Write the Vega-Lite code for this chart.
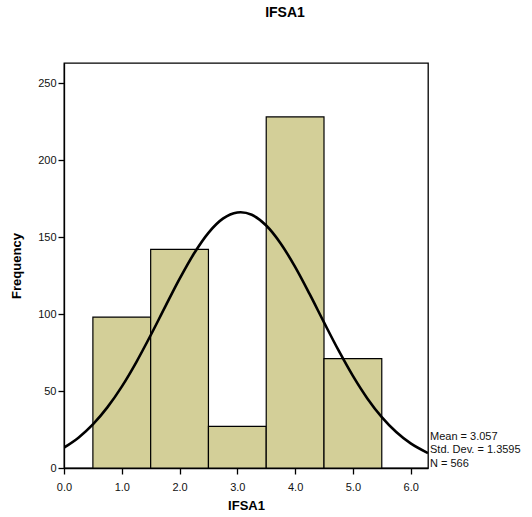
{
  "$schema": "https://vega.github.io/schema/vega-lite/v6.json",
  "autosize": {"type": "none"},
  "width": 364,
  "height": 405,
  "padding": {"left": 64, "top": 63, "right": 104, "bottom": 49},
  "background": "white",
  "title": {
    "text": "IFSA1",
    "fontSize": 14,
    "fontWeight": "bold",
    "font": "Liberation Sans",
    "color": "black",
    "anchor": "middle",
    "dx": 39,
    "offset": 43
  },
  "config": {
    "view": {"stroke": "black", "strokeWidth": 1.3},
    "font": "Liberation Sans",
    "axis": {
      "grid": false,
      "labelFont": "Liberation Sans",
      "labelFontSize": 11,
      "labelColor": "#111",
      "labelFlush": false,
      "titleFont": "Liberation Sans",
      "titleFontSize": 13,
      "titleFontWeight": "bold",
      "titleColor": "black",
      "tickColor": "black",
      "tickSize": 6,
      "tickWidth": 1.3,
      "domainColor": "black",
      "domainWidth": 1.3
    }
  },
  "datasets": {
    "bins": [
      {"lo": 0.5, "hi": 1.5, "count": 98},
      {"lo": 1.5, "hi": 2.5, "count": 142},
      {"lo": 2.5, "hi": 3.5, "count": 27},
      {"lo": 3.5, "hi": 4.5, "count": 228},
      {"lo": 4.5, "hi": 5.5, "count": 71}
    ],
    "curve": [
      {"x": 0.0, "y": 13.26},
      {"x": 0.25, "y": 19.71},
      {"x": 0.5, "y": 28.33},
      {"x": 0.75, "y": 39.36},
      {"x": 1.0, "y": 52.87},
      {"x": 1.25, "y": 68.66},
      {"x": 1.5, "y": 86.2},
      {"x": 1.75, "y": 104.63},
      {"x": 2.0, "y": 122.77},
      {"x": 2.25, "y": 139.26},
      {"x": 2.5, "y": 152.72},
      {"x": 2.75, "y": 161.91},
      {"x": 3.0, "y": 165.94},
      {"x": 3.057, "y": 166.09},
      {"x": 3.25, "y": 164.42},
      {"x": 3.5, "y": 157.5},
      {"x": 3.75, "y": 145.85},
      {"x": 4.0, "y": 130.57},
      {"x": 4.25, "y": 113.01},
      {"x": 4.5, "y": 94.56},
      {"x": 4.75, "y": 76.49},
      {"x": 5.0, "y": 59.81},
      {"x": 5.25, "y": 45.21},
      {"x": 5.5, "y": 33.05},
      {"x": 5.75, "y": 23.35},
      {"x": 6.0, "y": 15.95},
      {"x": 6.3, "y": 9.68}
    ],
    "stats": [
      {"l1": "Mean = 3.057", "l2": "Std. Dev. = 1.3595", "l3": "N = 566"}
    ]
  },
  "layer": [
    {
      "data": {"name": "bins"},
      "mark": {"type": "rect", "fill": "#d3cf98", "stroke": "black", "strokeWidth": 1.2},
      "encoding": {
        "x": {
          "field": "lo",
          "type": "quantitative",
          "scale": {"domain": [0, 6.3], "nice": false, "zero": false},
          "axis": {
            "title": "IFSA1",
            "values": [0, 1, 2, 3, 4, 5, 6],
            "format": ".1f",
            "labelPadding": 7,
            "titlePadding": 7
          }
        },
        "x2": {"field": "hi"},
        "y": {
          "field": "count",
          "type": "quantitative",
          "scale": {"domain": [0, 263], "nice": false},
          "axis": {
            "title": "Frequency",
            "values": [0, 50, 100, 150, 200, 250],
            "labelPadding": 2,
            "titlePadding": 14
          }
        },
        "y2": {"datum": 0}
      }
    },
    {
      "data": {"name": "curve"},
      "mark": {"type": "line", "color": "black", "strokeWidth": 2.6, "interpolate": "monotone", "clip": true},
      "encoding": {
        "x": {"field": "x", "type": "quantitative"},
        "y": {"field": "y", "type": "quantitative"}
      }
    },
    {
      "data": {"name": "stats"},
      "mark": {
        "type": "text",
        "align": "left",
        "baseline": "alphabetic",
        "fontSize": 11,
        "lineHeight": 13.5,
        "color": "#111",
        "dx": 2,
        "text": {"expr": "[datum.l1, datum.l2, datum.l3]"}
      },
      "encoding": {
        "x": {"datum": 6.3},
        "y": {"datum": 18.4}
      }
    }
  ]
}
